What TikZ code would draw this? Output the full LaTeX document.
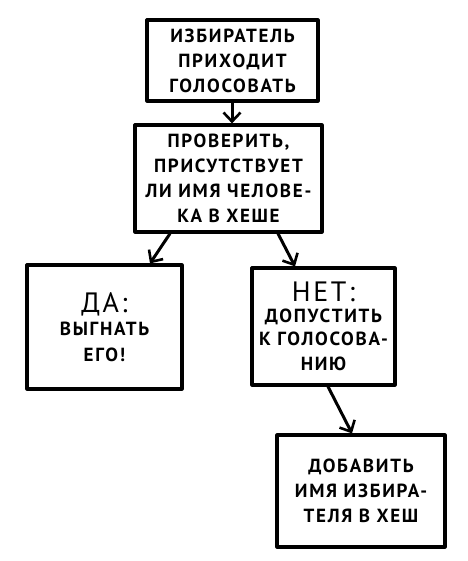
\documentclass[tikz,border=0pt]{standalone}
\usepackage{fontspec}
\setmainfont{PT Sans}[LetterSpace=9]
\usetikzlibrary{arrows.meta}
\begin{document}
\begin{tikzpicture}[x=1pt,y=-1pt,
  box/.style={draw=black,line width=3.2pt,rectangle,line join=round,
    align=center,inner sep=0pt,
    font=\bfseries\fontsize{19}{25}\selectfont},
  arr/.style={line width=3pt,line cap=round,
    -{Straight Barb[length=9pt,width=17pt,line width=2.6pt]}},
  bigtxt/.style={}]
\useasboundingbox (0,0) rectangle (467,561);
\node[box,minimum width=171pt,minimum height=81pt] (b1) at (232.5,60.5)
  {ИЗБИРАТЕЛЬ\\ПРИХОДИТ\\ГОЛОСОВАТЬ};
\node[box,minimum width=187pt,minimum height=107pt] (b2) at (228.5,178.5)
  {ПРОВЕРИТЬ,\\ПРИСУТСТВУЕТ\\ЛИ ИМЯ ЧЕЛОВЕ-\\КА В ХЕШЕ};
\node[box,minimum width=155pt,minimum height=124pt] (b3) at (104.5,327)
  {{\mdseries\fontsize{28}{30}\selectfont ДА:}\\[-2pt]ВЫГНАТЬ\\[1pt]ЕГО!};
\node[box,minimum width=143pt,minimum height=117pt] (b4) at (323.5,326.5)
  {{\mdseries\fontsize{28}{30}\selectfont НЕТ:}\\[-4pt]ДОПУСТИТЬ\\[-2pt]К ГОЛОСОВА-\\НИЮ};
\node[box,minimum width=168pt,minimum height=112pt] (b5) at (361,491)
  {ДОБАВИТЬ\\ИМЯ ИЗБИРА-\\ТЕЛЯ В ХЕШ};
\draw[arr] ([xshift=-0.5pt]b1.south) -- ([xshift=3.5pt]b2.north);
\draw[arr] ([xshift=-58.5pt]b2.south) -- ([xshift=45.5pt]b3.north);
\draw[arr] ([xshift=49.5pt]b2.south) -- ([xshift=-28.5pt]b4.north);
\draw[arr] ([xshift=4.5pt]b4.south) -- ([xshift=-9pt]b5.north);
\end{tikzpicture}
\end{document}
